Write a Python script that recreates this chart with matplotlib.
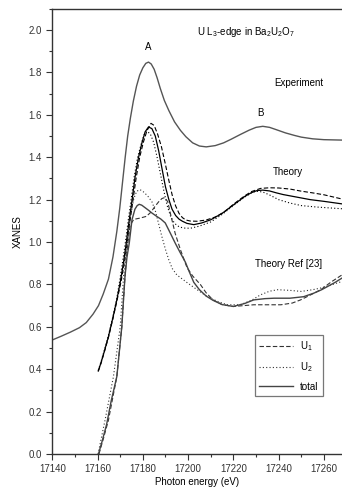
import numpy as np
import matplotlib
matplotlib.use('Agg')
import matplotlib.pyplot as plt
from matplotlib.ticker import MultipleLocator

plt.rcParams['font.family'] = ['Liberation Sans', 'DejaVu Sans']
plt.rcParams['mathtext.default'] = 'regular'

# Experiment
exp_x = [17140, 17144, 17148, 17152, 17155, 17158, 17160.4, 17162.5, 17164.8, 17166.8,
         17168.5, 17169.8, 17171, 17172.2, 17173.3, 17174.5, 17175.8, 17177.2, 17178.6,
         17180, 17181.3, 17182.5, 17183.7, 17185, 17186.3, 17187.7, 17189.5, 17191.5,
         17194, 17196.6, 17199, 17202, 17205, 17208, 17212, 17215.7, 17219, 17223,
         17227, 17230, 17233, 17236, 17239, 17243, 17247, 17250, 17255, 17260, 17268]
exp_y = [0.538, 0.556, 0.575, 0.596, 0.620, 0.660, 0.700, 0.755, 0.825, 0.930,
         1.05, 1.16, 1.28, 1.40, 1.50, 1.585, 1.665, 1.735, 1.788,
         1.822, 1.843, 1.849, 1.840, 1.815, 1.775, 1.725, 1.668, 1.620,
         1.567, 1.527, 1.497, 1.468, 1.453, 1.449, 1.455, 1.468, 1.485, 1.507,
         1.528, 1.541, 1.546, 1.541, 1.530, 1.515, 1.503, 1.495, 1.487, 1.483, 1.481]

# Theory (this work)
th_tot_x = [17160.3, 17161.5, 17163, 17164.8, 17166.7, 17168.5, 17170, 17171.4, 17172.6,
            17173.8, 17175, 17176.6, 17178.1, 17179.6, 17181, 17182.5, 17184, 17185.5,
            17187, 17188.4, 17190, 17191.5, 17192.9, 17194.5, 17196, 17197.5, 17199.5,
            17202.5, 17206, 17210, 17215, 17220, 17225, 17228, 17230.5, 17233, 17236,
            17239, 17242, 17248, 17254, 17260, 17268]
th_tot_y = [0.392, 0.43, 0.485, 0.554, 0.64, 0.727, 0.81, 0.90, 0.99,
            1.09, 1.18, 1.31, 1.40, 1.468, 1.52, 1.543, 1.535, 1.50,
            1.43, 1.35, 1.26, 1.20, 1.155, 1.125, 1.108, 1.098, 1.088,
            1.082, 1.090, 1.105, 1.135, 1.175, 1.215, 1.233, 1.243, 1.245, 1.241,
            1.232, 1.224, 1.212, 1.200, 1.192, 1.18]

th_u1_x = [17160.3, 17161.5, 17163, 17164.8, 17166.7, 17168.5, 17170.3, 17171.8, 17173,
           17174.2, 17175.4, 17177, 17178.6, 17180.2, 17181.8, 17183.6, 17185, 17186.5,
           17188.2, 17189.9, 17191.5, 17193, 17194.5, 17196, 17197.5, 17199, 17201,
           17204, 17208, 17212, 17216, 17220, 17225, 17228, 17232, 17236, 17240,
           17245, 17250, 17255, 17260, 17264, 17268]
th_u1_y = [0.39, 0.428, 0.482, 0.55, 0.635, 0.72, 0.81, 0.90, 0.99,
           1.09, 1.18, 1.30, 1.40, 1.47, 1.525, 1.560, 1.55, 1.51,
           1.45, 1.37, 1.29, 1.22, 1.17, 1.135, 1.115, 1.104, 1.099,
           1.098, 1.104, 1.118, 1.142, 1.178, 1.218, 1.238, 1.253, 1.256, 1.255,
           1.25, 1.24, 1.232, 1.223, 1.213, 1.203]

th_u2_x = [17160.3, 17161.5, 17163, 17164.8, 17166.7, 17168.5, 17169.8, 17171.1, 17172.3,
           17173.5, 17174.7, 17176.2, 17177.7, 17179.2, 17180.5, 17181.8, 17183.3, 17184.8,
           17186.3, 17187.8, 17189.3, 17190.8, 17192.3, 17194, 17196, 17198, 17201,
           17205, 17210, 17215, 17220, 17225, 17228, 17230, 17233, 17236, 17240,
           17245, 17250, 17257, 17268]
th_u2_y = [0.395, 0.435, 0.49, 0.56, 0.645, 0.735, 0.82, 0.91, 1.00,
           1.10, 1.19, 1.31, 1.40, 1.46, 1.505, 1.523, 1.51, 1.47,
           1.40, 1.32, 1.24, 1.17, 1.12, 1.088, 1.072, 1.066, 1.065,
           1.075, 1.095, 1.13, 1.172, 1.212, 1.232, 1.24, 1.236, 1.222, 1.20,
           1.184, 1.172, 1.165, 1.157]

# Theory Ref [23]
ref_tot_x = [17160.4, 17162, 17164, 17166, 17168.5, 17170.7, 17172.1, 17173, 17174,
             17175.2, 17176.5, 17177.5, 17178.4, 17179.5, 17181, 17182.5, 17184, 17186,
             17188, 17189.9, 17192, 17194.3, 17196.5, 17198.8, 17200.5, 17202.5, 17205,
             17208, 17211, 17215, 17220, 17225, 17229, 17234, 17238, 17245, 17251,
             17255.6, 17259, 17261.6, 17265, 17268]
ref_tot_y = [0.0, 0.06, 0.14, 0.25, 0.365, 0.60, 0.837, 0.93, 0.995,
             1.105, 1.155, 1.172, 1.178, 1.174, 1.162, 1.150, 1.137, 1.122,
             1.108, 1.09, 1.045, 0.995, 0.95, 0.905, 0.86, 0.81, 0.775,
             0.745, 0.725, 0.705, 0.696, 0.71, 0.727, 0.733, 0.735, 0.735, 0.742,
             0.759, 0.775, 0.79, 0.81, 0.83]

ref_u1_x = [17160.6, 17162.5, 17164.8, 17168.5, 17170.7, 17172.1, 17173.2, 17174.4,
            17176, 17178.8, 17181.5, 17183.5, 17185.5, 17187, 17188.4, 17189.7, 17191,
            17192.5, 17194.3, 17196.6, 17199.5, 17202, 17205.4, 17208, 17211, 17215,
            17220, 17229, 17241, 17246, 17249.7, 17254, 17258.6, 17263, 17268]
ref_u1_y = [0.0, 0.07, 0.16, 0.365, 0.60, 0.837, 0.98, 1.08,
            1.107, 1.113, 1.121, 1.14, 1.17, 1.19, 1.205, 1.21, 1.19,
            1.12, 1.04, 0.964, 0.88, 0.84, 0.80, 0.76, 0.727, 0.705,
            0.696, 0.704, 0.704, 0.712, 0.727, 0.75, 0.775, 0.81, 0.845]

ref_u2_x = [17160.2, 17163.3, 17167, 17170, 17171.5, 17173, 17174.5, 17176, 17177.3,
            17178.8, 17180.5, 17182.3, 17184, 17185.5, 17187, 17188.4, 17190, 17191.5,
            17193, 17195, 17197.5, 17200, 17204, 17208.4, 17213, 17217.3, 17223, 17228,
            17232, 17236, 17239.5, 17245, 17250, 17255, 17258.6, 17263, 17268]
ref_u2_y = [0.0, 0.16, 0.365, 0.60, 0.84, 0.98, 1.12, 1.205, 1.24,
            1.247, 1.235, 1.215, 1.19, 1.148, 1.085, 1.026, 0.965, 0.915,
            0.875, 0.845, 0.825, 0.805, 0.775, 0.743, 0.72, 0.704, 0.704, 0.725,
            0.751, 0.768, 0.775, 0.772, 0.767, 0.775, 0.783, 0.797, 0.814]

fig = plt.figure(figsize=(3.42, 4.94), dpi=100)
ax = fig.add_axes([0.153, 0.081, 0.847, 0.901])

ax.plot(exp_x, exp_y, color='#555555', lw=1.0)

ax.plot(th_u1_x, th_u1_y, color='black', lw=0.8, ls=(0, (4, 2)))
ax.plot(th_u2_x, th_u2_y, color='black', lw=0.8, ls=(0, (1, 2)))
ax.plot(th_tot_x, th_tot_y, color='black', lw=0.9)

ax.plot(ref_u1_x, ref_u1_y, color='#333333', lw=0.8, ls=(0, (4, 2)), label='U$_1$')
ax.plot(ref_u2_x, ref_u2_y, color='#333333', lw=0.8, ls=(0, (1, 2)), label='U$_2$')
ax.plot(ref_tot_x, ref_tot_y, color='#444444', lw=1.0, label='total')

ax.set_xlim(17140, 17268)
ax.set_ylim(0, 2.1)
ax.xaxis.set_major_locator(MultipleLocator(20))
ax.xaxis.set_minor_locator(MultipleLocator(10))
ax.yaxis.set_major_locator(MultipleLocator(0.2))
ax.yaxis.set_minor_locator(MultipleLocator(0.1))
ax.yaxis.set_major_formatter(plt.FormatStrFormatter('%.1f'))
ax.tick_params(which='both', direction='out', labelsize=7, colors='#333333')
ax.tick_params(which='major', length=4, width=0.8)
ax.tick_params(which='minor', length=2.5, width=0.8)

for side in ['left', 'bottom', 'top']:
    ax.spines[side].set_linewidth(1.0)
    ax.spines[side].set_color('#333333')
ax.spines['right'].set_visible(False)

ax.set_xlabel('Photon energy (eV)', fontsize=7, labelpad=2)
ax.set_ylabel('XANES', fontsize=7, labelpad=4)

ax.text(17204, 1.99, 'U L$_3$-edge in Ba$_2$U$_2$O$_7$', fontsize=7, ha='left', va='center')
ax.text(17182.5, 1.92, 'A', fontsize=7, ha='center', va='center')
ax.text(17249, 1.75, 'Experiment', fontsize=7, ha='center', va='center')
ax.text(17232, 1.61, 'B', fontsize=7, ha='center', va='center')
ax.text(17244, 1.33, 'Theory', fontsize=7, ha='center', va='center')
ax.text(17244.5, 0.897, 'Theory Ref [23]', fontsize=7, ha='center', va='center')

leg = ax.legend(loc='lower left', bbox_to_anchor=(0.70, 0.13), fontsize=7,
                fancybox=False, edgecolor='#777777', framealpha=1,
                handlelength=3.4, handletextpad=0.8, labelspacing=0.75,
                borderpad=0.45, borderaxespad=0)
leg.get_frame().set_linewidth(0.9)

fig.savefig('out.png', dpi=100)
